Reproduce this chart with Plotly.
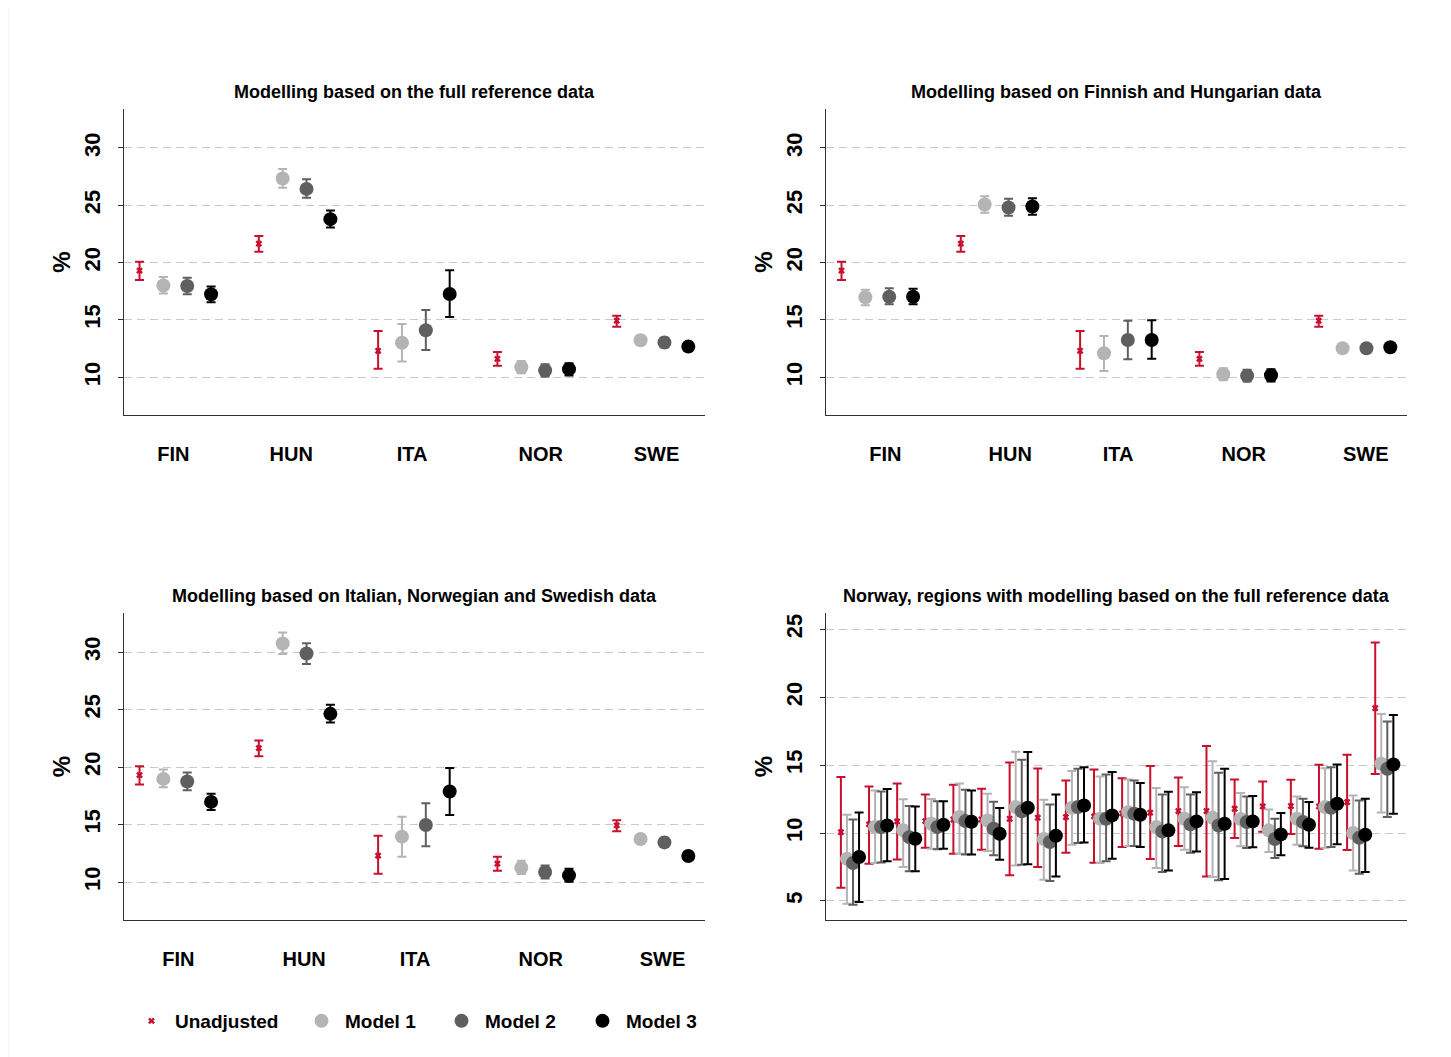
import plotly.graph_objects as go

W, H = 1451, 1057
OFF = 8  # page body margin compensation (px)

countries = ["FIN", "HUN", "ITA", "NOR", "SWE"]
series_names = ["Unadjusted", "Model 1", "Model 2", "Model 3"]
series_colors = ["#C8102E", "#B4B4B4", "#5F5F5F", "#000000"]
series_symbols = ["x", "circle", "circle", "circle"]
series_sizes = [6, 14, 14, 14]

panel_titles = [
    "Modelling based on the full reference data",
    "Modelling based on Finnish and Hungarian data",
    "Modelling based on Italian, Norwegian and Swedish data",
    "Norway, regions with modelling based on the full reference data",
]

# Panel 1: full reference data (rows: Unadjusted, Model 1, Model 2, Model 3; cols: countries)
p1_est = [[19.3, 21.65, 12.3, 11.6, 14.93],
          [18.0, 27.33, 13.0, 10.87, 13.22],
          [17.95, 26.43, 14.1, 10.58, 13.02],
          [17.23, 23.79, 17.26, 10.7, 12.67]]
p1_lo = [[18.48, 20.94, 10.73, 10.99, 14.41],
         [17.31, 26.52, 11.36, 10.35, 12.82],
         [17.23, 25.65, 12.38, 10.06, 12.61],
         [16.53, 23.06, 15.25, 10.15, 12.32]]
p1_hi = [[20.08, 22.31, 14.03, 12.2, 15.37],
         [18.74, 28.17, 14.64, 11.42, 13.63],
         [18.68, 27.27, 15.86, 11.13, 13.43],
         [17.92, 24.54, 19.32, 11.22, 13.05]]

# Panel 2: Finnish and Hungarian data
p2_est = [[19.3, 21.65, 12.3, 11.6, 14.93],
          [16.97, 25.07, 12.09, 10.26, 12.53],
          [17.02, 24.8, 13.25, 10.12, 12.53],
          [17.02, 24.89, 13.25, 10.17, 12.61]]
p2_lo = [[18.48, 20.94, 10.73, 10.99, 14.41],
         [16.27, 24.34, 10.55, 9.74, 12.21],
         [16.36, 24.08, 11.57, 9.62, 12.21],
         [16.36, 24.17, 11.6, 9.62, 12.29]]
p2_hi = [[20.08, 22.31, 14.03, 12.2, 15.37],
         [17.63, 25.79, 13.6, 10.78, 12.82],
         [17.75, 25.56, 14.93, 10.64, 12.84],
         [17.72, 25.62, 14.96, 10.7, 12.93]]

# Panel 3: Italian, Norwegian and Swedish data
p3_est = [[19.3, 21.65, 12.3, 11.6, 14.93],
          [18.97, 30.75, 13.95, 11.25, 13.74],
          [18.74, 29.88, 14.96, 10.87, 13.45],
          [16.97, 24.63, 17.87, 10.58, 12.26]]
p3_lo = [[18.48, 20.94, 10.73, 10.99, 14.41],
         [18.24, 29.83, 12.21, 10.7, 13.34],
         [17.98, 28.96, 13.11, 10.32, 13.05],
         [16.27, 23.88, 15.83, 10.03, 11.92]]
p3_hi = [[20.08, 22.31, 14.03, 12.2, 15.37],
         [19.78, 31.71, 15.69, 11.86, 14.12],
         [19.52, 30.78, 16.85, 11.45, 13.86],
         [17.69, 25.41, 19.93, 11.16, 12.64]]

# Panel 4: Norwegian regions (20 regions)
p4_est = [
    [10.07, 10.64, 10.86, 10.88, 11.0, 11.0, 11.05, 11.13, 11.18, 11.23,
     11.45, 11.5, 11.62, 11.62, 11.79, 11.96, 11.99, 11.96, 12.28, 19.19],
    [8.1, 10.44, 10.2, 10.69, 11.18, 10.93, 11.91, 9.56, 11.86, 11.05,
     11.54, 10.44, 11.05, 11.13, 11.03, 10.2, 11.05, 11.91, 10.0, 15.1],
    [7.8, 10.44, 9.7, 10.44, 10.88, 10.32, 11.6, 9.34, 11.91, 11.05,
     11.42, 10.12, 10.64, 10.56, 10.81, 9.56, 10.81, 11.86, 9.66, 14.73],
    [8.24, 10.56, 9.58, 10.61, 10.83, 9.95, 11.86, 9.8, 12.03, 11.3,
     11.35, 10.2, 10.86, 10.69, 10.86, 9.9, 10.61, 12.16, 9.88, 15.05],
]
p4_lo = [
    [5.98, 7.75, 8.06, 8.92, 8.48, 8.77, 6.89, 7.5, 8.55, 7.82,
     8.97, 8.09, 9.04, 6.81, 9.63, 10.1, 9.93, 8.85, 8.75, 14.34],
    [4.8, 7.8, 7.5, 8.85, 8.48, 8.68, 7.62, 6.57, 9.14, 7.8,
     9.04, 7.43, 8.77, 6.76, 9.02, 8.6, 9.14, 8.92, 7.25, 11.52],
    [4.73, 7.84, 7.18, 8.8, 8.43, 8.36, 7.67, 6.47, 9.26, 7.92,
     9.04, 7.13, 8.55, 6.52, 8.9, 8.16, 9.02, 8.97, 7.0, 11.18],
    [4.93, 7.92, 7.18, 8.85, 8.43, 8.04, 7.7, 6.81, 9.31, 8.11,
     8.97, 7.25, 8.65, 6.62, 8.95, 8.36, 8.92, 9.17, 7.13, 11.42],
]
p4_hi = [
    [14.12, 13.43, 13.65, 12.84, 13.55, 13.26, 15.2, 14.75, 13.87, 14.68,
     14.04, 14.93, 14.09, 16.4, 13.95, 13.8, 13.92, 15.02, 15.76, 24.02],
    [11.35, 13.14, 12.48, 12.5, 13.65, 12.89, 15.98, 12.45, 14.56, 14.17,
     13.95, 13.31, 13.38, 15.29, 12.94, 11.74, 12.7, 14.78, 12.77, 18.77],
    [11.0, 13.06, 11.99, 12.35, 13.19, 12.3, 15.39, 12.1, 14.73, 14.31,
     13.87, 12.84, 12.84, 14.44, 12.7, 11.05, 12.52, 14.85, 12.4, 18.21],
    [11.52, 13.24, 11.96, 12.35, 13.14, 11.84, 15.96, 12.84, 14.85, 14.49,
     13.68, 13.04, 13.01, 14.73, 12.72, 11.47, 12.28, 15.05, 12.52, 18.7],
]

FONT = "Liberation Sans, Arial, sans-serif"

# ---- layout constants (pixel positions in reference coordinates) ----
boxes = [(124, 705, 109, 415), (826, 1407, 109, 415),
         (124, 705, 613, 920), (826, 1407, 613, 920)]
# category label positions on the x axis (axis units) for panels 1-3
label_pos = [[1.42, 6.36, 11.42, 16.82, 21.67],
             [1.84, 7.07, 11.59, 16.86, 21.97],
             [1.63, 6.9, 11.55, 16.82, 21.92]]
legend_symbol_x = [150, 320, 460, 601]
legend_y = 1021


def px(xp):
    return (xp - OFF) / W


def py(yp):
    return 1 - (yp - OFF) / H


fig = go.Figure()

panels = [(p1_est, p1_lo, p1_hi), (p2_est, p2_lo, p2_hi), (p3_est, p3_lo, p3_hi)]
legend_ids = ["legend", "legend2", "legend3", "legend4"]

for p, (est, lo, hi) in enumerate(panels):
    ax = "" if p == 0 else str(p + 1)
    for s in range(4):
        xs = [i * 5 + s for i in range(len(countries))]
        fig.add_trace(go.Scatter(
            x=xs, y=est[s], mode="markers",
            name=series_names[s], showlegend=(p == 0), legend=legend_ids[s],
            marker=dict(symbol=series_symbols[s], size=series_sizes[s],
                        color=series_colors[s], line=dict(width=0)),
            error_y=dict(type="data", symmetric=False,
                         array=[h - e for h, e in zip(hi[s], est[s])],
                         arrayminus=[e - l for e, l in zip(est[s], lo[s])],
                         color=series_colors[s], thickness=2, width=4.5),
            xaxis="x" + ax, yaxis="y" + ax,
        ))

n_reg = len(p4_est[0])
for s in range(4):
    xs = [g + s * 0.215 for g in range(n_reg)]
    fig.add_trace(go.Scatter(
        x=xs, y=p4_est[s], mode="markers", showlegend=False,
        name=series_names[s],
        marker=dict(symbol=series_symbols[s], size=series_sizes[s],
                    color=series_colors[s], line=dict(width=0)),
        error_y=dict(type="data", symmetric=False,
                     array=[h - e for h, e in zip(p4_hi[s], p4_est[s])],
                     arrayminus=[e - l for e, l in zip(p4_est[s], p4_lo[s])],
                     color=series_colors[s], thickness=2, width=4.5),
        xaxis="x4", yaxis="y4",
    ))

yaxis_common = dict(
    showline=True, linecolor="#333333", linewidth=1.3,
    ticks="outside", ticklen=5, tickcolor="#333333", tickwidth=1.3,
    tickangle=-90, tickfont=dict(family=FONT, size=22, color="#000", weight="bold"),
    showgrid=True, gridcolor="#C8C8C8", griddash="8px,5px", gridwidth=1,
    zeroline=False, dtick=5, tick0=0, ticklabelstandoff=9,
    title=dict(text="%", font=dict(family=FONT, size=24, color="#000", weight="bold"), standoff=2),
)

xaxis_common = dict(
    showline=True, linecolor="#333333", linewidth=1.3,
    showgrid=False, zeroline=False, ticks="",
    tickfont=dict(family=FONT, size=20, color="#000", weight="bold"),
)

layout = dict(
    width=W, height=H, margin=dict(l=0, r=0, t=0, b=0),
    paper_bgcolor="white", plot_bgcolor="white",
    showlegend=True,
)

for s in range(4):
    layout[legend_ids[s]] = dict(
        orientation="h", x=px(legend_symbol_x[s] - 22), y=py(legend_y),
        xanchor="left", yanchor="middle",
        font=dict(family=FONT, size=19, color="#000", weight="bold"), itemwidth=37,
        bgcolor="rgba(0,0,0,0)",
    )

for p in range(4):
    l, r, t, b = boxes[p]
    sx = "" if p == 0 else str(p + 1)
    xa = dict(xaxis_common, domain=[px(l), px(r)], anchor="y" + sx)
    ya = dict(yaxis_common, domain=[py(b), py(t)], anchor="x" + sx)
    if p < 3:
        xa.update(range=[-0.65, 23.7], tickmode="array", tickvals=label_pos[p],
                  ticktext=countries, ticklabelstandoff=21)
        ya.update(range=[6.7, 33.4])
    else:
        xa.update(range=[-0.53, n_reg - 1 + 1.13], showticklabels=False)
        ya.update(range=[3.6, 26.2])
    layout["xaxis" + sx] = xa
    layout["yaxis" + sx] = ya

annotations = []
for p in range(4):
    l, r, t, b = boxes[p]
    annotations.append(dict(
        text=panel_titles[p], x=px((l + r) / 2), y=py(t - 5),
        xref="paper", yref="paper", xanchor="center", yanchor="bottom",
        showarrow=False, font=dict(family=FONT, size=18, color="#000", weight="bold"),
    ))
layout["annotations"] = annotations
layout["shapes"] = [dict(type="rect", xref="paper", yref="paper",
                         x0=px(8), x1=1.02, y0=-0.02, y1=py(6),
                         line=dict(color="#EEEEEE", width=1), fillcolor="rgba(0,0,0,0)",
                         layer="below")]

fig.update_layout(**layout)
fig.write_html("out.html")
